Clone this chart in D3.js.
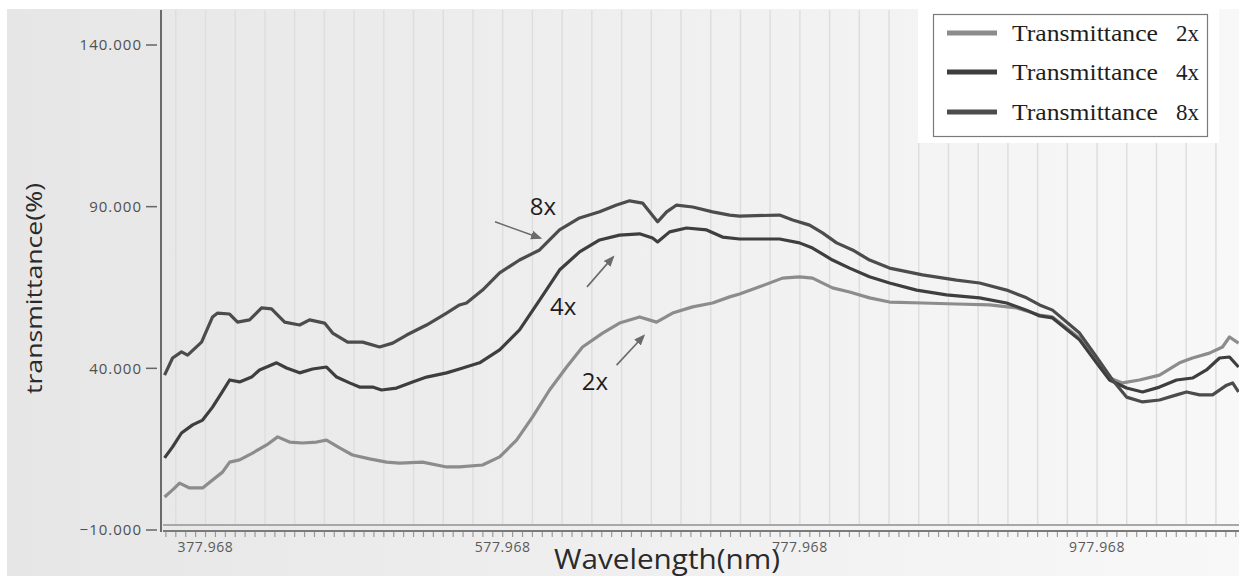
<!DOCTYPE html>
<html>
<head>
<meta charset="utf-8">
<script src="https://cdn.jsdelivr.net/npm/d3@7"></script>
<style>
  body { margin: 0; background: #fff; }
  svg { display: block; }
</style>
</head>
<body>
<svg id="chart" width="1239" height="576"></svg>
<script>
// DATA
var wl8x = [350.4,355.8,361.8,365.9,375.3,382.7,386.1,394.2,399.5,407.6,415.7,422.4,431.2,441.3,448.0,458.1,463.5,473.6,483.7,495.1,503.9,513.3,526.7,540.2,548.9,553.6,564.4,575.9,589.3,602.8,616.2,629.7,643.2,654.6,663.4,672.1,676.8,682.2,688.3,695.0,705.8,719.2,730.7,737.4,764.3,773.1,784.5,793.2,802.7,813.4,824.9,838.3,860.5,883.4,898.9,917.1,930.5,939.3,948.0,966.2,977.6,988.4,997.8,1008.6,1020.0,1031.5,1038.2,1047.0,1055.7,1065.2,1069.2,1073.2]
var tr8x = [37.9,43.2,45.1,44.1,48.1,55.9,57.1,56.8,54.3,55.0,58.7,58.4,54.3,53.4,55.0,54.0,50.9,48.1,48.1,46.6,47.8,50.3,53.4,57.1,59.6,60.2,64.2,69.5,73.5,76.6,82.8,86.5,88.4,90.5,91.8,91.1,88.4,85.3,88.4,90.5,89.9,88.4,87.4,87.1,87.4,85.9,84.3,81.9,78.8,76.6,73.5,71.0,68.9,67.3,66.4,64.2,61.8,59.6,58.0,50.9,43.5,36.4,31.1,29.6,30.2,31.8,32.7,31.8,31.8,34.8,35.5,32.7]

var wl4x = [350.4,355.8,361.8,369.3,376.0,382.7,388.8,394.2,400.9,409.0,414.3,419.1,425.8,432.5,441.3,450.0,459.4,466.2,474.9,481.6,490.4,496.4,506.5,517.3,526.7,540.2,548.9,562.4,575.9,589.3,602.8,616.2,629.7,643.2,656.6,670.1,678.8,682.2,690.3,701.7,715.2,725.9,737.4,764.3,777.7,786.5,799.9,811.4,824.8,838.3,856.5,876.6,898.9,917.1,930.5,939.3,948.0,966.2,977.6,986.4,997.8,1008.6,1020.0,1031.5,1042.2,1051.6,1060.4,1067.1,1073.2]
var tr4x = [12.3,15.7,20.0,22.5,24.0,28.0,32.4,36.4,35.8,37.3,39.5,40.4,41.7,40.1,38.6,39.8,40.4,37.3,35.5,34.2,34.2,33.3,33.9,35.8,37.3,38.6,39.8,41.7,45.7,51.9,61.1,70.4,76.0,79.7,81.2,81.6,80.3,79.1,82.2,83.4,82.8,80.6,80.0,80.0,78.8,77.2,73.5,71.0,68.3,66.4,64.2,62.7,61.8,60.2,58.0,56.2,55.6,48.8,41.7,36.4,33.9,32.7,34.2,36.4,37.0,39.5,43.2,43.5,40.4]

var wl2x = [350.4,355.8,360.5,367.2,376.0,382.7,389.4,394.2,400.9,409.6,419.1,426.5,434.5,443.3,452.7,459.4,468.2,476.9,488.4,499.8,508.6,524.0,540.2,548.9,564.4,575.9,587.3,598.1,609.5,621.0,631.7,645.2,656.6,670.1,681.5,692.3,705.8,719.2,730.7,737.4,750.8,766.3,777.7,786.5,799.9,811.4,824.9,838.3,860.5,883.4,905.6,923.8,939.3,948.0,966.2,977.6,986.4,995.1,1006.5,1020.0,1033.5,1042.2,1053.6,1062.4,1067.1,1073.2]
var tr2x = [0.2,2.4,4.5,3.0,3.0,5.5,7.9,11.0,11.7,13.8,16.3,18.8,17.2,16.9,17.2,17.8,15.4,13.2,12.0,11.0,10.7,11.0,9.5,9.5,10.1,12.6,17.8,25.0,33.3,40.4,46.6,50.9,54.0,55.9,54.3,57.1,59.0,60.2,62.1,63.0,65.2,67.9,68.3,67.9,64.9,63.6,61.8,60.5,60.2,59.9,59.6,58.7,56.5,55.9,49.4,42.6,37.0,35.5,36.4,37.9,41.7,43.2,44.7,46.6,49.7,47.8]

var seriesNames = ["Transmittance", "Transmittance", "Transmittance"]
var seriesTags = ["2x", "4x", "8x"]
var seriesColors = ["#8c8c8c", "#3e3e3e", "#4c4c4c"]
var xTicks = [377.968, 577.968, 777.968, 977.968]
var yTicks = [-10, 40, 90, 140]

// annotations: label, label position, arrow start, arrow end
var noteText = ["8x", "4x", "2x"]
var noteWl = [605.1, 618.6, 640.1]
var noteTr = [90.2, 59.3, 36.1]
var arrowFromWl = [572.8, 634.7, 654.6]
var arrowFromTr = [85.3, 65.2, 41.0]
var arrowToWl = [603.1, 652.2, 672.8]
var arrowToTr = [80.3, 74.4, 50.0]

var series = [
    d3.zip(wl2x, tr2x),
    d3.zip(wl4x, tr4x),
    d3.zip(wl8x, tr8x)
]

var svg = d3.select("#chart")
var plotL = 161, plotR = 1239, plotT = 10, plotB = 530

var x = d3.scaleLinear().domain([348.0, 1073.5]).range([plotL, plotR])
var y = d3.scaleLinear().domain([-10, 140]).range([plotB, 45])

// BACKGROUND
var defs = svg.append("defs")
var grad = defs.append("linearGradient").attr("id", "bg").attr("x1", "0").attr("x2", "1")
grad.append("stop").attr("offset", "0").attr("stop-color", "#e6e6e6")
grad.append("stop").attr("offset", "0.5").attr("stop-color", "#efefef")
grad.append("stop").attr("offset", "1").attr("stop-color", "#f8f8f8")

defs.append("marker")
    .attr("id", "head")
    .attr("viewBox", "0 0 10 10")
    .attr("refX", 8).attr("refY", 5)
    .attr("markerWidth", 7).attr("markerHeight", 7)
    .attr("orient", "auto")
  .append("path")
    .attr("d", "M0,1 L10,5 L0,9 Z")
    .attr("fill", "#6a6a6a")

defs.append("clipPath").attr("id", "plot")
  .append("rect").attr("x", plotL + 1).attr("y", plotT).attr("width", plotR - plotL).attr("height", plotB - plotT)

svg.append("rect").attr("x", 7).attr("y", 9).attr("width", 1232).attr("height", 567).attr("fill", "url(#bg)")

// GRID
svg.append("g").selectAll("line")
    .data(d3.range(357.968, 1073.5, 20))
    .join("line")
    .attr("x1", function(d) { return x(d) })
    .attr("x2", function(d) { return x(d) })
    .attr("y1", plotT)
    .attr("y2", plotB - 6)
    .attr("stroke", "#dedede")
    .attr("stroke-width", 1.5)

// AXES
svg.append("line").attr("x1", plotL).attr("x2", plotL).attr("y1", plotT).attr("y2", plotB + 2)
    .attr("stroke", "#6a6a6a").attr("stroke-width", 2)
svg.append("line").attr("x1", plotL + 2).attr("x2", plotR).attr("y1", plotB - 5).attr("y2", plotB - 5)
    .attr("stroke", "#a8a8a8").attr("stroke-width", 2)
svg.append("line").attr("x1", plotL + 2).attr("x2", plotR).attr("y1", plotB + 1).attr("y2", plotB + 1)
    .attr("stroke", "#7a7a7a").attr("stroke-width", 2)

svg.append("g").selectAll("line")
    .data(d3.range(351.3, 1073.5, 20 / 3))
    .join("line")
    .attr("x1", function(d) { return x(d) })
    .attr("x2", function(d) { return x(d) })
    .attr("y1", plotB + 2)
    .attr("y2", plotB + 7)
    .attr("stroke", "#9a9a9a")
    .attr("stroke-width", 1.2)

svg.append("g").selectAll("line")
    .data(yTicks)
    .join("line")
    .attr("x1", 146).attr("x2", 157)
    .attr("y1", function(d) { return y(d) })
    .attr("y2", function(d) { return y(d) })
    .attr("stroke", "#666")
    .attr("stroke-width", 1.5)

svg.append("g").selectAll("text")
    .data(yTicks)
    .join("text")
    .attr("x", 142)
    .attr("y", function(d) { return y(d) })
    .attr("dy", "0.35em")
    .attr("text-anchor", "end")
    .attr("font-family", "Open Sans, sans-serif")
    .attr("font-size", 15)
    .attr("letter-spacing", 1)
    .attr("fill", "#505050")
    .text(d3.format(".3f"))

svg.append("g").selectAll("text")
    .data(xTicks)
    .join("text")
    .attr("x", function(d) { return x(d) })
    .attr("y", 552)
    .attr("text-anchor", "middle")
    .attr("font-family", "Open Sans, sans-serif")
    .attr("font-size", 14)
    .attr("letter-spacing", 0.6)
    .attr("fill", "#5a5a5a")
    .text(d3.format(".3f"))

svg.append("text")
    .attr("x", 554).attr("y", 569)
    .attr("font-family", "Open Sans, sans-serif")
    .attr("font-size", 27)
    .attr("textLength", 226)
    .attr("lengthAdjust", "spacingAndGlyphs")
    .attr("fill", "#2a2a2a")
    .text("Wavelength(nm)")

svg.append("text")
    .attr("transform", "translate(42,394) rotate(-90)")
    .attr("font-family", "Open Sans, sans-serif")
    .attr("font-size", 22)
    .attr("textLength", 211)
    .attr("lengthAdjust", "spacingAndGlyphs")
    .attr("fill", "#2a2a2a")
    .text("transmittance(%)")

// CURVES
var line = d3.line()
    .x(function(d) { return x(d[0]) })
    .y(function(d) { return y(d[1]) })

svg.append("g").attr("clip-path", "url(#plot)")
    .selectAll("path")
    .data(series)
    .join("path")
    .attr("d", line)
    .attr("fill", "none")
    .attr("stroke", function(d, i) { return seriesColors[i] })
    .attr("stroke-width", 3.2)
    .attr("stroke-linejoin", "round")

// ANNOTATIONS
svg.append("g").selectAll("line")
    .data(noteText)
    .join("line")
    .attr("x1", function(d, i) { return x(arrowFromWl[i]) })
    .attr("y1", function(d, i) { return y(arrowFromTr[i]) })
    .attr("x2", function(d, i) { return x(arrowToWl[i]) })
    .attr("y2", function(d, i) { return y(arrowToTr[i]) })
    .attr("stroke", "#6a6a6a")
    .attr("stroke-width", 1.6)
    .attr("marker-end", "url(#head)")

svg.append("g").selectAll("text")
    .data(noteText)
    .join("text")
    .attr("x", function(d, i) { return x(noteWl[i]) })
    .attr("y", function(d, i) { return y(noteTr[i]) })
    .attr("dy", "0.36em")
    .attr("text-anchor", "middle")
    .attr("font-family", "Open Sans, sans-serif")
    .attr("font-size", 24)
    .attr("fill", "#1e1e1e")
    .text(function(d) { return d })

// LEGEND
svg.append("rect").attr("x", 918).attr("y", 9).attr("width", 301).attr("height", 134).attr("fill", "#fff")
svg.append("rect").attr("x", 933.5).attr("y", 14.5).attr("width", 274).attr("height", 122)
    .attr("fill", "#fff").attr("stroke", "#7a7a7a").attr("stroke-width", 1.2)

var legendY = [33, 72, 112]
var legend = svg.append("g").selectAll("g")
    .data(seriesNames)
    .join("g")
    .attr("transform", function(d, i) { return "translate(0," + legendY[i] + ")" })

legend.append("line")
    .attr("x1", 947).attr("x2", 997)
    .attr("stroke", function(d, i) { return seriesColors[i] })
    .attr("stroke-width", 5)

legend.append("text")
    .attr("x", 1012)
    .attr("dy", "0.33em")
    .attr("font-family", "Liberation Serif, Times New Roman, serif")
    .attr("font-size", 23)
    .attr("textLength", 146)
    .attr("lengthAdjust", "spacingAndGlyphs")
    .attr("fill", "#1e1e1e")
    .text(function(d) { return d })

legend.append("text")
    .attr("x", 1176)
    .attr("dy", "0.33em")
    .attr("font-family", "Liberation Serif, Times New Roman, serif")
    .attr("font-size", 23)
    .attr("fill", "#1e1e1e")
    .text(function(d, i) { return seriesTags[i] })
</script>
</body>
</html>
